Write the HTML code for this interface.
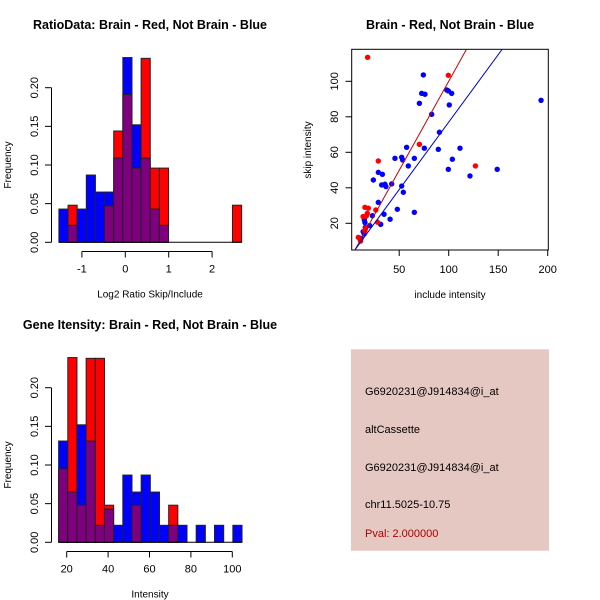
<!DOCTYPE html>
<html><head><meta charset="utf-8"><style>
body{margin:0;background:#fff;}
svg{display:block;font-family:"Liberation Sans",sans-serif;}
</style></head><body>
<svg id="c" width="600" height="600" viewBox="0 0 600 600"></svg>
<script>
// ---- Data ----
const ratioBinStart = -1.53, ratioBinWidth = 0.2105;
const ratioBlue = [0.043,0.022,0.043,0.087,0.065,0.065,0.109,0.239,0.152,0.109,0.043,0.022,0,0,0,0,0,0,0,0];
const ratioRed  = [0,0.048,0,0,0,0.047,0.144,0.191,0.096,0.238,0.096,0.096,0,0,0,0,0,0,0,0.048];
const ratioXTicks = [-1,0,1,2];
const freqTicks = ["0.00","0.05","0.10","0.15","0.20"];

const intBinStart = 16.1, intBinWidth = 4.43;
const intBlue = [0.131,0.065,0.152,0.131,0.022,0.043,0.022,0.087,0.065,0.087,0.065,0.022,0.022,0.022,0,0.022,0,0.022,0,0.022];
const intRed  = [0.095,0.239,0.048,0.238,0.238,0.048,0,0,0.048,0,0,0,0.048,0,0,0,0,0,0,0];
const intXTicks = [20,40,60,80,100];

const blueX = [74.4,72.7,76,70.4,98,99.6,103,100.6,82.8,90.6,193.3,57.5,75.4,89.5,111.4,52.5,53.5,45.7,65.3,59.2,103.7,99.6,149,121.5,28.9,33,23.9,32.3,35.6,36.6,42.4,52.5,54.2,28.9,48.1,65.3,34.7,22.9,40.8,14.8,15.4,31.3,20.2,15.7,13.6,14.6,11.4,10.7];
const blueY = [103.6,93.2,92.7,87.6,95.1,94.6,93.2,86.7,81.4,71.3,89.3,62.8,62.3,61.7,62.3,57.2,55.7,56.6,56.6,52.3,56.1,50.4,50.4,46.7,48.7,47.6,44.4,41.6,42,40.7,42.2,41,37.5,31.8,27.9,26.2,25.1,24.3,22.3,21.9,20.4,19.4,18.7,17.6,15.3,14,11.5,10.6];
const redX = [18.1,99.6,70.4,127,28.9,15.4,18.8,26.4,17.8,16.8,13.5,28.2,16.1,15.4,8.7,11];
const redY = [113.5,103.4,64.5,52.3,55.1,29,28.5,27.5,25.6,24.1,23.8,20.6,17.2,15.9,12.1,10];
const redFit = [-0.3,1.003];
const blueFit = [1.0,0.76];
const scatXTicks = [50,100,150,200];
const scatYTicks = [20,40,60,80,100];

const infoLines = ["G6920231@J914834@i_at","altCassette","G6920231@J914834@i_at","chr11.5025-10.75"];
const pvalText = "Pval: 2.000000";

// ---- Helpers ----
const svg = document.getElementById('c');
const NS = "http://www.w3.org/2000/svg";
function mk(tag, attrs, parent){const e=document.createElementNS(NS,tag);for(const k in attrs)e.setAttribute(k,attrs[k]);(parent||svg).appendChild(e);return e;}
function txt(s, attrs, parent){const e=mk('text',attrs,parent);e.textContent=s;return e;}

function histogram(name, title, titleY, y0px, ypx001, xFn, binStart, binW, blue, red, xticks, xlabel, xaxisY, xaxisRange){
  const g = mk('g',{});
  
  
  const yFn = v => y0px - v*ypx001*100;
  const t = txt(title,{x:150,y:titleY,'text-anchor':'middle','font-size':12.5,'font-weight':'bold'},g);
  
  
  for(let i=0;i<blue.length;i++){
    const b=blue[i], r=red[i];
    const x1=xFn(binStart+i*binW), x2=xFn(binStart+(i+1)*binW);
    const hi=Math.max(b,r), lo=Math.min(b,r);
    if(hi>0){
      const rc=mk('rect',{x:x1,y:yFn(hi),width:x2-x1,height:yFn(0)-yFn(hi),fill:b>=r?'#0000ff':'#ff0000',stroke:'#222','stroke-width':1},g);
      
      
    }
    if(lo>0){
      const pc=mk('rect',{x:x1,y:yFn(lo),width:x2-x1,height:yFn(0)-yFn(lo),fill:'#7f007f',stroke:'#222','stroke-width':1},g);
      
      
    }
  }
  mk('line',{x1:xFn(binStart),x2:xFn(binStart+blue.length*binW),y1:yFn(0),y2:yFn(0),stroke:'#000'},g);
  const ya=mk('g',{},g);
  
  
  mk('line',{x1:51.5,x2:51.5,y1:yFn(0),y2:yFn(0.2),stroke:'#000'},ya);
  freqTicks.forEach(s=>{const v=parseFloat(s);const y=yFn(v);
    mk('line',{x1:45,x2:51.5,y1:y,y2:y,stroke:'#000'},ya);
    txt(s,{x:0,y:0,transform:`translate(38,${y}) rotate(-90)`,'text-anchor':'middle','font-size':11},ya);});
  const yl=txt('Frequency',{x:0,y:0,transform:`translate(11,${yFn(0.1)}) rotate(-90)`,'text-anchor':'middle','font-size':10},g);
  
  
  const xa=mk('g',{},g);
  
  
  mk('line',{x1:xFn(xaxisRange[0]),x2:xFn(xaxisRange[1]),y1:xaxisY,y2:xaxisY,stroke:'#000'},xa);
  xticks.forEach(v=>{const x=xFn(v);
    mk('line',{x1:x,x2:x,y1:xaxisY,y2:xaxisY+6,stroke:'#000'},xa);
    txt(String(v),{x:x,y:xaxisY+21,'text-anchor':'middle','font-size':11},xa);});
  const xl=txt(xlabel,{x:150,y:xaxisY+46,'text-anchor':'middle','font-size':10},g);
  
  
}

const rx = v => 125.3 + v*43.4;
histogram('ratio-histogram','RatioData: Brain - Red, Not Brain - Blue',29,242.3,7.73,rx,ratioBinStart,ratioBinWidth,ratioBlue,ratioRed,ratioXTicks,'Log2 Ratio Skip/Include',251.5,[-1,2]);

const ix = v => 66.7 + (v-20)*2.07;
histogram('intensity-histogram','Gene Itensity: Brain - Red, Not Brain - Blue',329,542.3,7.73,ix,intBinStart,intBinWidth,intBlue,intRed,intXTicks,'Intensity',551.5,[20,100]);

const sx = v => 349.7 + v*0.99;
const sy = v => 223.3 - (v-20)*1.775;
const sg = mk('g',{});


const st=txt('Brain - Red, Not Brain - Blue',{x:450,y:29,'text-anchor':'middle','font-size':12.5,'font-weight':'bold'},sg);


mk('defs',{}).innerHTML='<clipPath id="pc"><rect x="351.7" y="49.3" width="196.6" height="200.7"/></clipPath>';
const box=mk('rect',{x:351.7,y:49.3,width:196.6,height:200.7,fill:'none',stroke:'#000'},sg);


const sxa=mk('g',{},sg);


scatXTicks.forEach(v=>{const x=sx(v);mk('line',{x1:x,x2:x,y1:250,y2:256,stroke:'#000'},sxa);
  txt(String(v),{x:x,y:273,'text-anchor':'middle','font-size':11},sxa);});
const sya=mk('g',{},sg);


scatYTicks.forEach(v=>{const y=sy(v);mk('line',{x1:345.5,x2:351.7,y1:y,y2:y,stroke:'#000'},sya);
  txt(String(v),{x:0,y:0,transform:`translate(338,${y}) rotate(-90)`,'text-anchor':'middle','font-size':11},sya);});
const sxl=txt('include intensity',{x:450,y:298,'text-anchor':'middle','font-size':10},sg);


const syl=txt('skip intensity',{x:0,y:0,transform:'translate(311,150) rotate(-90)','text-anchor':'middle','font-size':10},sg);


const pts=mk('g',{'clip-path':'url(#pc)'},sg);


blueX.forEach((v,i)=>{const c=mk('circle',{cx:sx(v),cy:sy(blueY[i]),r:2.7,fill:'#0000ff'},pts);
  
  });
redX.forEach((v,i)=>{const c=mk('circle',{cx:sx(v),cy:sy(redY[i]),r:2.7,fill:'#ff0000'},pts);
  
  });
function fitLine(coef,color,nm){const xa=0,xb=250;
  const l=mk('line',{x1:sx(xa),y1:sy(coef[0]+coef[1]*xa),x2:sx(xb),y2:sy(coef[0]+coef[1]*xb),stroke:color,'stroke-width':1},pts);
  
  }
fitLine(redFit,'#cc0000','fit-line-red');
fitLine(blueFit,'#0000cc','fit-line-blue');

const ip=mk('g',{});


mk('rect',{x:351,y:349.3,width:198,height:201.4,fill:'#e6c8c2'},ip);
const lineYs=[395,433,471,508];
infoLines.forEach((s,i)=>{const t=txt(s,{x:365,y:lineYs[i],'font-size':11,fill:'#000'},ip);
  
  });
const pv=txt(pvalText,{x:365,y:537,'font-size':11,fill:'#aa0000'},ip);


</script>
</body></html>
